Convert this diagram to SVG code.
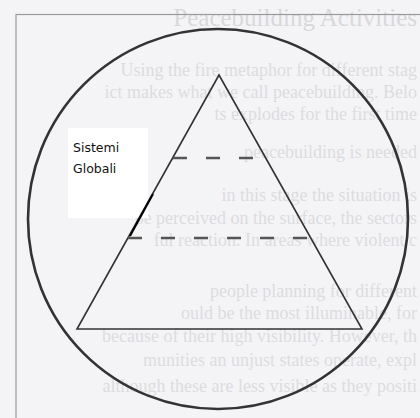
<svg xmlns="http://www.w3.org/2000/svg" width="420" height="418" viewBox="0 0 420 418">
  <style>
    .bg { font-family: "Liberation Serif", "DejaVu Serif", serif; font-size: 18px; fill: #dcdcdf; }
    .head { font-family: "Liberation Serif", "DejaVu Serif", serif; font-size: 25px; fill: #d8d8db; }
    .label { font-family: "DejaVu Sans", "Liberation Sans", sans-serif; font-size: 12.5px; fill: #111; }
    .shape { fill: none; stroke: #333; }
    .dash { fill: none; stroke: #555; stroke-width: 2.6; stroke-dasharray: 14 19; }
  </style>
  <rect x="0" y="0" width="420" height="418" fill="#f4f4f6"/>
  <g id="page-text">
    <text class="head" x="417" y="26" text-anchor="end">Peacebuilding Activities</text>
    <text class="bg" x="417" y="76" text-anchor="end">Using the fire metaphor for different stag</text>
    <text class="bg" x="417" y="98" text-anchor="end">ict makes what we call peacebuilding. Belo</text>
    <text class="bg" x="417" y="120" text-anchor="end">ts explodes for the first time</text>
    <text class="bg" x="417" y="158" text-anchor="end">peacebuilding is needed</text>
    <text class="bg" x="417" y="201" text-anchor="end">in this stage the situation is</text>
    <text class="bg" x="417" y="224" text-anchor="end">be perceived on the surface, the sectors</text>
    <text class="bg" x="417" y="246" text-anchor="end">ful reaction. In areas where violent c</text>
    <text class="bg" x="417" y="297" text-anchor="end">people planning for different</text>
    <text class="bg" x="417" y="319" text-anchor="end">ould be the most illuminable, for</text>
    <text class="bg" x="417" y="342" text-anchor="end">because of their high visibility. However, th</text>
    <text class="bg" x="417" y="366" text-anchor="end">munities an unjust states operate, expl</text>
    <text class="bg" x="417" y="392" text-anchor="end">although these are less visible as they positi</text>
  </g>
  <rect x="16" y="14.5" width="420" height="420" fill="none" stroke="#9a9a9a" stroke-width="1.2"/>
  <g id="circle">
    <circle cx="218" cy="219" r="190" class="shape" stroke-width="2.6"/>
  </g>
  <g id="label-box">
    <rect x="68" y="128" width="80" height="90" fill="#ffffff"/>
  </g>
  <g id="triangle">
    <polygon points="219,75 77,329 362,329" class="shape" stroke-width="1.6"/>
  </g>
  <g id="levels">
    <line x1="173" y1="158" x2="266" y2="158" class="dash"/>
    <line x1="128" y1="238" x2="309" y2="238" class="dash"/>
  </g>
  <g id="sistemi-globali">
    <text class="label" x="73" y="152">Sistemi</text>
    <text class="label" x="73" y="173">Globali</text>
  </g>
  <g id="connectors">
    <line x1="153" y1="194" x2="130" y2="236" stroke="#000" stroke-width="2"/>
  </g>
</svg>
